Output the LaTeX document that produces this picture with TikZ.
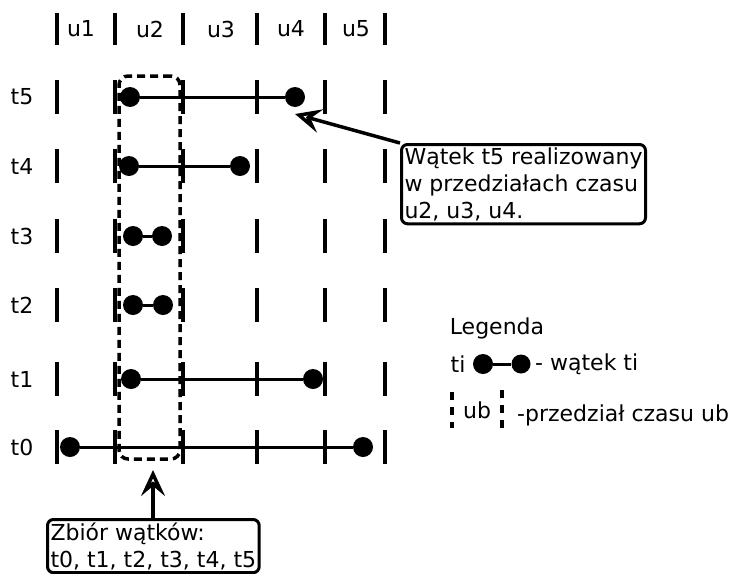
\documentclass[tikz,border=0pt]{standalone}
\usepackage{fontspec}
\setmainfont{DejaVu Sans}
\usetikzlibrary{arrows.meta,positioning}

\begin{document}
\begin{tikzpicture}[
  x=1pt,
  y=-1pt,
  every node/.style={font=\fontsize{22}{27}\selectfont},
  dot/.style={circle, fill=black, inner sep=0pt, minimum size=20pt},
  divider/.style={line width=4pt},
  thread/.style={line width=3pt},
  slot/.style={draw, line width=3.5pt, dash pattern=on 8pt off 5pt, rounded corners=9pt},
  note/.style={draw, rounded corners=6pt, line width=3pt, align=left, inner sep=3pt},
  pointer/.style={-{Stealth[open, length=26pt, width=24pt, inset=10pt]}, line width=3.5pt}
]
\useasboundingbox (0,0) rectangle (733,573);

% time slots
\foreach \x in {57,115,183,257,325,385}
  \draw[divider] (\x,13) -- (\x,45);
\foreach \u/\x in {u1/81,u2/150,u3/221,u4/291,u5/356}
  \node (\u) at (\x,29) {\u};

% threads, one per row
\foreach \t/\y/\a/\b in {t5/97/130/295, t4/166/129/240, t3/236/133/162,
                         t2/305/133/163, t1/379/131/313, t0/447/70/363} {
  \node (\t) at (22,\y) {\t};
  \foreach \x in {57,115,183,257,325,385}
    \draw[divider] (\x,\y-17) -- (\x,\y+17);
  \node[dot] (\t-start) at (\a,\y) {};
  \node[dot] (\t-end) at (\b,\y) {};
  \draw[thread] (\t-start) -- (\t-end);
}

% slot u2
\node[slot, minimum width=61pt, minimum height=383pt] (u2set) at (149.5,267.5) {};

\node[note, anchor=north west] (t5note) at (400,143) {Wątek t5 realizowany\\w przedziałach czasu\\u2, u3, u4.};
\node[note, anchor=north west] (setnote) at (46,518) {Zbiór wątków:\\t0, t1, t2, t3, t4, t5};

\coordinate (t5tip) at (295,114);
\coordinate (settip) at (153,470);
\draw[pointer] (t5note.north west) -- (t5tip);
\draw[pointer] (setnote.north -| settip) -- (settip);

% legend
\node (legend) at (497,328) {Legenda};
\node (ti) at (458,364) {ti};
\node[dot] (leg-start) at (483,364) {};
\node[dot, minimum size=19pt] (leg-end) at (521,364) {};
\draw[thread] (leg-start) -- (leg-end);
\node[anchor=west, inner sep=0pt] (legthread) at (535,364) {- wątek ti};
\draw[divider, dash pattern=on 8pt off 7pt] (452,392) -- (452,428);
\draw[divider, dash pattern=on 8pt off 7pt] (502,390) -- (502,428);
\node (ub) at (477,410) {ub};
\node[anchor=west, inner sep=0pt] (legslot) at (517,415) {-przedział czasu ub};
\end{tikzpicture}
\end{document}
